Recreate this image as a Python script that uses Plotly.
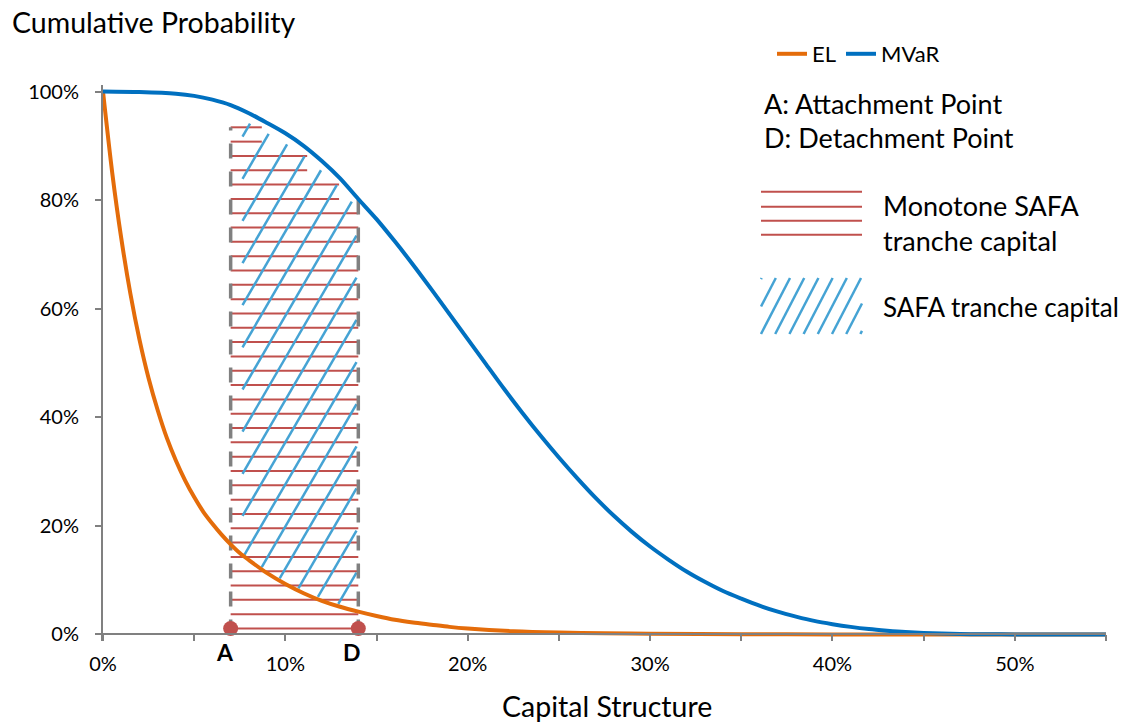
import numpy as np
import plotly.graph_objects as go

# ---------------- data ----------------
el_x = [0, 0.5, 1, 1.5, 2, 2.5, 3, 3.5, 4, 4.5, 5, 5.5, 6, 6.5, 7, 7.5, 8, 9, 10, 11,
        12, 13, 14, 15, 16, 17, 18, 19, 20, 22.5, 25, 27.5, 30, 35, 40, 45, 50, 55]   # capital structure, %
el_y = [100, 85.2, 73.0, 62.8, 54.3, 47.2, 41.3, 36.2, 32.0, 28.4, 25.3, 22.6, 20.4, 18.4, 16.6, 15.0,
        13.7, 11.3, 9.3, 7.6, 6.2, 5.1, 4.2, 3.4, 2.7, 2.2, 1.8, 1.4, 1.1, 0.6, 0.35, 0.22, 0.15,
        0.06, 0.02, 0.0, 0.0, 0.0]                                                  # cumulative probability, %

mvar_x = [0, 2, 4, 5, 6, 7, 8, 9, 10, 11, 12, 13, 14, 15, 16, 17, 18, 19, 20, 21, 22, 23, 24,
          25, 26, 27, 28, 29, 30, 31, 32, 33, 34, 35, 36, 37, 38, 39, 40, 41, 42, 43, 44, 45,
          46, 47, 48, 50, 55]
mvar_y = [100, 99.9, 99.6, 99.2, 98.5, 97.5, 96, 94.2, 92.3, 90, 87.2, 84, 80.2, 76.5, 72.4, 68.1,
          63.6, 59, 54.4, 49.8, 45.2, 40.8, 36.6, 32.6, 28.8, 25.2, 21.9, 18.9, 16.2, 13.8, 11.6,
          9.7, 8.0, 6.6, 5.3, 4.2, 3.3, 2.5, 1.9, 1.4, 1.0, 0.7, 0.45, 0.28, 0.16, 0.09, 0.05, 0.01, 0]

attach_point = 7.0    # A, %
detach_point = 14.0   # D, %

x_ticks = [0, 5, 10, 15, 20, 25, 30, 35, 40, 45, 50, 55]
x_tick_text = ["0%", "", "10%", "", "20%", "", "30%", "", "40%", "", "50%", ""]
y_ticks = [0, 20, 40, 60, 80, 100]
y_tick_text = ["0%", "20%", "40%", "60%", "80%", "100%"]

# ---------------- styling / layout constants ----------------
FONT = "Lato"
C_EL = "#E46C0A"
C_MVAR = "#0070C0"
C_RED = "#C0504D"
C_HATCH = "#45A3D4"
C_GRAY = "#808080"

W, H = 1126, 722
L, R, T, B = 103, 20, 85, 81
X_RANGE = [0, 55]
Y_RANGE = [-1.2, 101.2]
plot_w = W - L - R
plot_h = H - T - B
px_x = plot_w / (X_RANGE[1] - X_RANGE[0])
px_y = plot_h / (Y_RANGE[1] - Y_RANGE[0])


def to_paper(xp, yp):
    return (xp - L) / plot_w, (H - B - yp) / plot_h


el_xa, el_ya = np.array(el_x, float), np.array(el_y, float)
mv_xa, mv_ya = np.array(mvar_x, float), np.array(mvar_y, float)


def el_at(x):
    return np.interp(x, el_xa, el_ya)


def mvar_at(x):
    return np.interp(x, mv_xa, mv_ya)


def mvar_inv(p):
    return np.interp(p, mv_ya[::-1], mv_xa[::-1])


fig = go.Figure()

# ---------------- red "monotone" hatch (horizontal lines) ----------------
spacing = 14.32 / px_y          # vertical distance between lines (in %)
level0 = 1.1                    # lowest line (joins A and D)
n_lines = 36
levels = [level0 + k * spacing for k in range(n_lines)]
rx, ry = [], []
top_k = n_lines - 1
for k in range(1, n_lines):
    p = (top_k - k) // 2
    l_hi = levels[top_k - 2 * p]
    x_end = min(detach_point, float(mvar_inv(l_hi + spacing / 2)))
    rx += [attach_point, x_end, None]
    ry += [levels[k], levels[k], None]
fig.add_trace(go.Scatter(x=rx, y=ry, mode="lines", line=dict(color=C_RED, width=2),
                         showlegend=False, hoverinfo="skip"))

# ---------------- blue hatch (diagonal lines between EL and MVaR) ----------------
slope = 1.72 * px_x / px_y
dx = 24.5 / px_x
base_x, base_y = 14.186, 28.55
xs = np.linspace(attach_point + 0.65, detach_point - 0.1, 1500)
bx, by = [], []
for j in range(-40, 40):
    yl = base_y + slope * (xs - base_x - j * dx)
    ok = (yl > el_at(xs) + 0.4) & (yl < mvar_at(xs) - 1.8) & (yl > 0.5)
    if ok.any():
        idx = np.where(ok)[0]
        i0, i1 = idx[0], idx[-1]
        if i1 > i0:
            bx += [xs[i0], xs[i1], None]
            by += [yl[i0], yl[i1], None]
fig.add_trace(go.Scatter(x=bx, y=by, mode="lines", line=dict(color=C_HATCH, width=2.5),
                         showlegend=False, hoverinfo="skip"))

# ---------------- dashed boundaries at A and D ----------------
fig.add_trace(go.Scatter(x=[attach_point, attach_point, None, detach_point, detach_point],
                         y=[0, levels[-1], None, 0, float(mvar_at(detach_point))],
                         mode="lines", line=dict(color=C_GRAY, width=3.5, dash="15px,13px"),
                         showlegend=False, hoverinfo="skip"))

# ---------------- curves ----------------
fig.add_trace(go.Scatter(x=el_x, y=el_y, mode="lines", name="EL",
                         line=dict(color=C_EL, width=4, shape="spline", smoothing=0.8)))
fig.add_trace(go.Scatter(x=mvar_x, y=mvar_y, mode="lines", name="MVaR",
                         line=dict(color=C_MVAR, width=4, shape="spline", smoothing=0.8)))

# ---------------- A and D points ----------------
fig.add_trace(go.Scatter(x=[attach_point, detach_point], y=[level0, level0], mode="lines+markers",
                         line=dict(color=C_RED, width=2),
                         marker=dict(color=C_RED, size=15),
                         showlegend=False, hoverinfo="skip"))

# ---------------- annotations ----------------
ann = []
for lab, xv in (("A", attach_point), ("D", detach_point)):
    ann.append(dict(x=xv, y=0, xref="x", yref="y", text="<b>%s</b>" % lab, showarrow=False,
                    xanchor="center", yanchor="top", xshift=-6, yshift=-2,
                    font=dict(family=FONT, size=23, color="black")))


def add_text(txt, xp, yp, size=27, xanchor="left"):
    px, py = to_paper(xp, yp)
    ann.append(dict(x=px, y=py, xref="paper", yref="paper", text=txt, showarrow=False,
                    xanchor=xanchor, yanchor="middle",
                    font=dict(family=FONT, size=size, color="black")))


add_text("Cumulative Probability", 10, 22, 28.5)
add_text("Capital Structure", 607, 706, 28.5, "center")
add_text("A: Attachment Point", 762, 103, 27)
add_text("D: Detachment Point", 762, 138, 27)
add_text("Monotone SAFA", 881, 205, 27)
add_text("tranche capital", 881, 240, 27)
add_text("SAFA tranche capital", 881, 307, 26)

# ---------------- legend swatches for hatches ----------------
shapes = []
for yp in (191.7, 206.7, 220.7, 234.7):
    x0, y0 = to_paper(761, yp)
    x1, _ = to_paper(862, yp)
    shapes.append(dict(type="line", xref="paper", yref="paper", x0=x0, x1=x1, y0=y0, y1=y0,
                       line=dict(color=C_RED, width=2)))
sx0, sx1, sy0, sy1 = 761, 862, 278, 334   # swatch box in pixels (top, bottom)
sw_slope, sw_dx = 1.93, 14.2
for j in range(-10, 12):
    xb = 761 + j * sw_dx
    xt = xb + (sy1 - sy0) / sw_slope
    ts = np.linspace(0, 1, 400)
    xpts = xb + (xt - xb) * ts
    ypts = sy1 + (sy0 - sy1) * ts
    ok = (xpts >= sx0) & (xpts <= sx1)
    if ok.sum() > 3:
        idx = np.where(ok)[0]
        a, b = idx[0], idx[-1]
        p0 = to_paper(xpts[a], ypts[a])
        p1 = to_paper(xpts[b], ypts[b])
        shapes.append(dict(type="line", xref="paper", yref="paper",
                           x0=p0[0], y0=p0[1], x1=p1[0], y1=p1[1],
                           line=dict(color=C_HATCH, width=2.5)))

zero_pos = (0 - Y_RANGE[0]) / (Y_RANGE[1] - Y_RANGE[0])
leg_x, leg_y = to_paper(772, 54)

fig.update_layout(
    width=W, height=H,
    margin=dict(l=L, r=R, t=T, b=B, autoexpand=False),
    plot_bgcolor="white", paper_bgcolor="white",
    font=dict(family=FONT, size=20, color="black"),
    showlegend=True,
    legend=dict(orientation="h", x=leg_x, y=leg_y, xanchor="left", yanchor="middle",
                font=dict(family=FONT, size=22, color="black"), bgcolor="rgba(0,0,0,0)",
                itemwidth=30, tracegroupgap=0),
    xaxis=dict(range=X_RANGE, anchor="free", position=zero_pos,
               tickvals=x_ticks, ticktext=x_tick_text, ticks="outside", ticklen=6,
               tickcolor=C_GRAY, tickwidth=1.5, showline=True, linecolor=C_GRAY, linewidth=2,
               showgrid=False, zeroline=False, ticklabelstandoff=6,
               tickfont=dict(family=FONT, size=20, color="black")),
    xaxis2=dict(range=X_RANGE, overlaying="x", anchor="free", position=zero_pos,
                tickvals=x_ticks, ticks="inside", ticklen=6, tickcolor=C_GRAY, tickwidth=1.5,
                showticklabels=False, showline=False, showgrid=False, zeroline=False),
    yaxis=dict(range=Y_RANGE, tickvals=y_ticks, ticktext=y_tick_text, ticks="outside",
               ticklen=6, tickcolor=C_GRAY, tickwidth=1.5, showline=True, linecolor=C_GRAY,
               linewidth=2, showgrid=False, zeroline=False, ticklabelstandoff=12,
               tickfont=dict(family=FONT, size=20, color="black")),
    annotations=ann,
    shapes=shapes,
)

fig.write_html("out.html", config={"displayModeBar": False},
               post_script="document.body.style.margin='0px';")
